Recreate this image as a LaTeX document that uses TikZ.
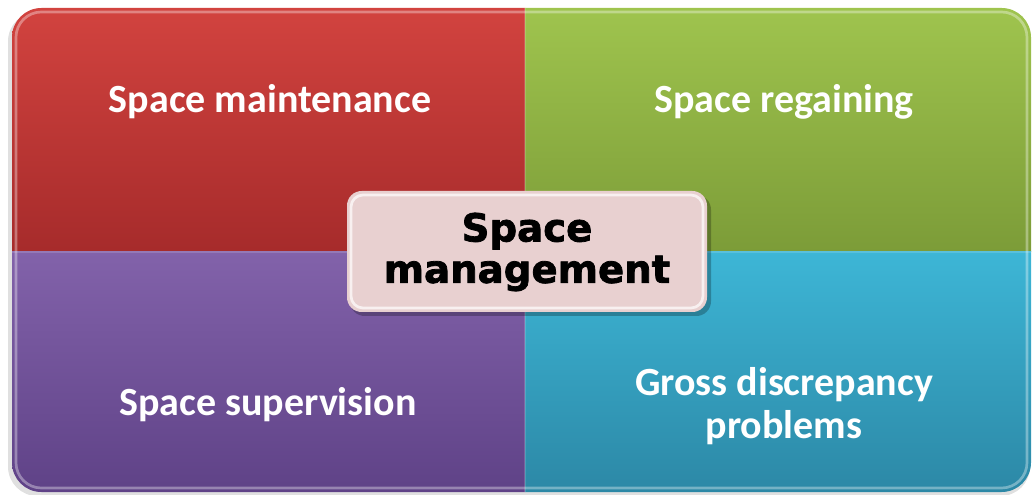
\documentclass[tikz,border=0pt]{standalone}
\usepackage{fontspec}
\setmainfont{Carlito}
\newfontfamily\heavyfont[BoldFeatures={FakeBold=2}]{DejaVu Sans}
\usepackage{tikz}

\definecolor{redtop}{HTML}{D2433F}
\definecolor{redbot}{HTML}{A62B2B}
\definecolor{greentop}{HTML}{9FC44E}
\definecolor{greenbot}{HTML}{7C9C38}
\definecolor{purpletop}{HTML}{8262AA}
\definecolor{purplebot}{HTML}{5F4287}
\definecolor{bluetop}{HTML}{3DB6D6}
\definecolor{bluebot}{HTML}{2C88A6}
\definecolor{centrefill}{HTML}{E8D0D0}

\tikzset{
	quadlabel/.style={text=white, align=center, font=\bfseries\fontsize{30}{32}\selectfont},
	centrelabel/.style={text=black, align=center, font=\heavyfont\bfseries\fontsize{29}{31}\selectfont},
	gloss/.style={draw=white, line width=2pt, opacity=0.35}
}

\begin{document}
\begin{tikzpicture}[x=0.75pt, y=-0.75pt]
	
	\useasboundingbox (0,0) rectangle (1032,495);
	
	% soft shadow under the whole block
	\fill[black, opacity=0.12, rounded corners=22pt] (8,12) rectangle (1030,496);
	
	\begin{scope}
		\clip[rounded corners=22pt] (12,8) rectangle (1031,492);
		\shade[top color=redtop, bottom color=redbot]       (12,8)    rectangle (525,252);
		\shade[top color=greentop, bottom color=greenbot]   (525,8)   rectangle (1031,252);
		\shade[top color=purpletop, bottom color=purplebot] (12,252)  rectangle (525,492);
		\shade[top color=bluetop, bottom color=bluebot]     (525,252) rectangle (1031,492);
		% glossy rims
		\draw[gloss, rounded corners=19pt] (16,12) rectangle (1027,488);
		\draw[white, opacity=0.15, line width=1pt] (525,8) -- (525,492);
		\draw[white, opacity=0.15, line width=1pt] (12,252) -- (1031,252);
	\end{scope}
	
	\node[quadlabel] (maint) at (270,102) {Space maintenance};
	\node[quadlabel] (regain) at (784,102) {Space regaining};
	\node[quadlabel] (superv) at (268,405) {Space supervision};
	\node[quadlabel] (gross) at (784,406) {Gross discrepancy\\problems};
	
	% centre box
	\fill[black, opacity=0.25, rounded corners=11pt] (350,195) rectangle (711,316);
	\fill[centrefill, rounded corners=11pt] (347,191) rectangle (707,312);
	\draw[gloss, opacity=0.7, rounded corners=9pt] (351,195) rectangle (703,308);
	\node[centrelabel] (mgmt) at (527,252) {Space\\management};
	
\end{tikzpicture}
\end{document}
